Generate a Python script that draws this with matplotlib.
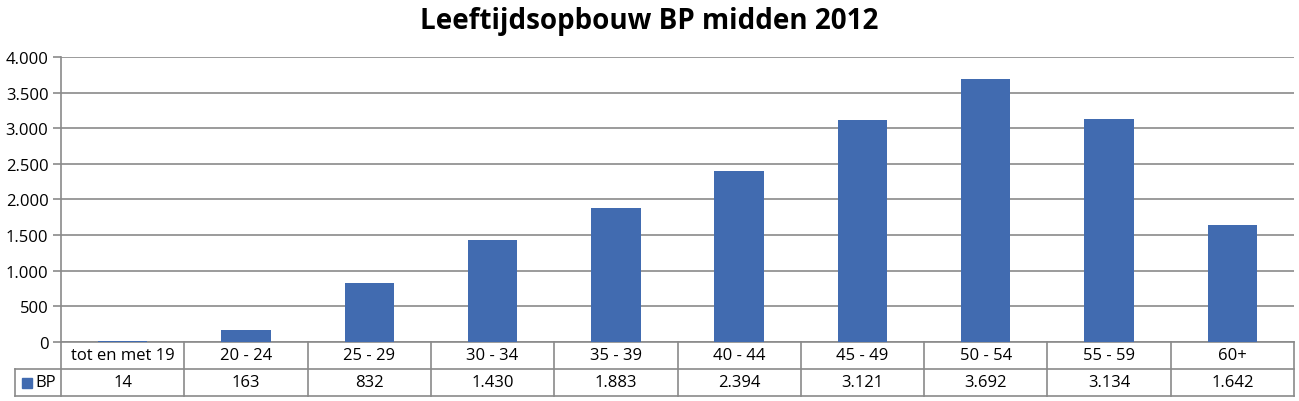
import matplotlib
matplotlib.use("Agg")
import matplotlib.pyplot as plt
from matplotlib.ticker import FuncFormatter
from matplotlib.patches import Rectangle

plt.rcParams['font.family'] = ['Open Sans', 'DejaVu Sans']

title = "Leeftijdsopbouw BP midden 2012"
categories = ["tot en met 19", "20 - 24", "25 - 29", "30 - 34", "35 - 39",
              "40 - 44", "45 - 49", "50 - 54", "55 - 59", "60+"]
series_name = "BP"
values = [14, 163, 832, 1430, 1883, 2394, 3121, 3692, 3134, 1642]
y_ticks = [0, 500, 1000, 1500, 2000, 2500, 3000, 3500, 4000]

bar_color = "#416BB0"
grid_color = "#8A8A8A"

def nl(v):
    return f"{int(v):,}".replace(",", ".")

W, H = 1299, 402
fig = plt.figure(figsize=(W / 100, H / 100), dpi=100)
left, right, top, bottom = 61, 1294, 58, 343
ax = fig.add_axes([left / W, 1 - bottom / H, (right - left) / W, (bottom - top) / H])

n = len(categories)
x = list(range(n))
ax.bar(x, values, width=0.4, color=bar_color, zorder=4)
ax.set_xlim(-0.5, n - 0.5)
ax.set_ylim(0, 4000)
ax.set_yticks(y_ticks)
ax.yaxis.set_major_formatter(FuncFormatter(lambda v, p: nl(v)))
ax.grid(axis='y', color=grid_color, linewidth=1.2, zorder=0)
ax.set_axisbelow(True)
ax.set_xticks([])
for s in ['top', 'right']:
    ax.spines[s].set_visible(False)
ax.spines['left'].set_color(grid_color)
ax.spines['left'].set_linewidth(1.2)
ax.spines['bottom'].set_color(grid_color)
ax.spines['bottom'].set_linewidth(1.2)
ax.spines['bottom'].set_zorder(1)
ax.tick_params(axis='y', length=6, color=grid_color, width=1.2, labelsize=12, pad=3)

# data table below the axes
row_h = 27 / (bottom - top)
tr = ax.transAxes
lc = grid_color
lw = 1.2
leg_left_px = 15
leg_left = (leg_left_px - left) / (right - left)
ax.plot([leg_left, 1], [-row_h, -row_h], transform=tr, color=lc, lw=lw, clip_on=False)
ax.plot([leg_left, 1], [-2 * row_h, -2 * row_h], transform=tr, color=lc, lw=lw, clip_on=False)
for i in range(n + 1):
    xf = i / n
    ax.plot([xf, xf], [0, -2 * row_h], transform=tr, color=lc, lw=lw, clip_on=False)
ax.plot([leg_left, leg_left], [-row_h, -2 * row_h], transform=tr, color=lc, lw=lw, clip_on=False)

for i, (c, v) in enumerate(zip(categories, values)):
    xc = (i + 0.5) / n
    ax.text(xc, -row_h / 2, c, transform=tr, ha='center', va='center', fontsize=12)
    ax.text(xc, -1.5 * row_h, nl(v), transform=tr, ha='center', va='center', fontsize=12)

# legend key in table
key_w = 10 / (right - left)
key_h = 10 / (bottom - top)
key_x = (22 - left) / (right - left)
ax.add_patch(Rectangle((key_x, -1.5 * row_h - key_h / 2), key_w, key_h, transform=tr,
                       color=bar_color, clip_on=False))
ax.text((35 - left) / (right - left), -1.5 * row_h, series_name, transform=tr,
        ha='left', va='center', fontsize=12)

fig.text(0.5, 1 - 21 / H, title, ha='center', va='center', fontsize=20, fontweight='bold')

fig.savefig("out.png", dpi=100)
